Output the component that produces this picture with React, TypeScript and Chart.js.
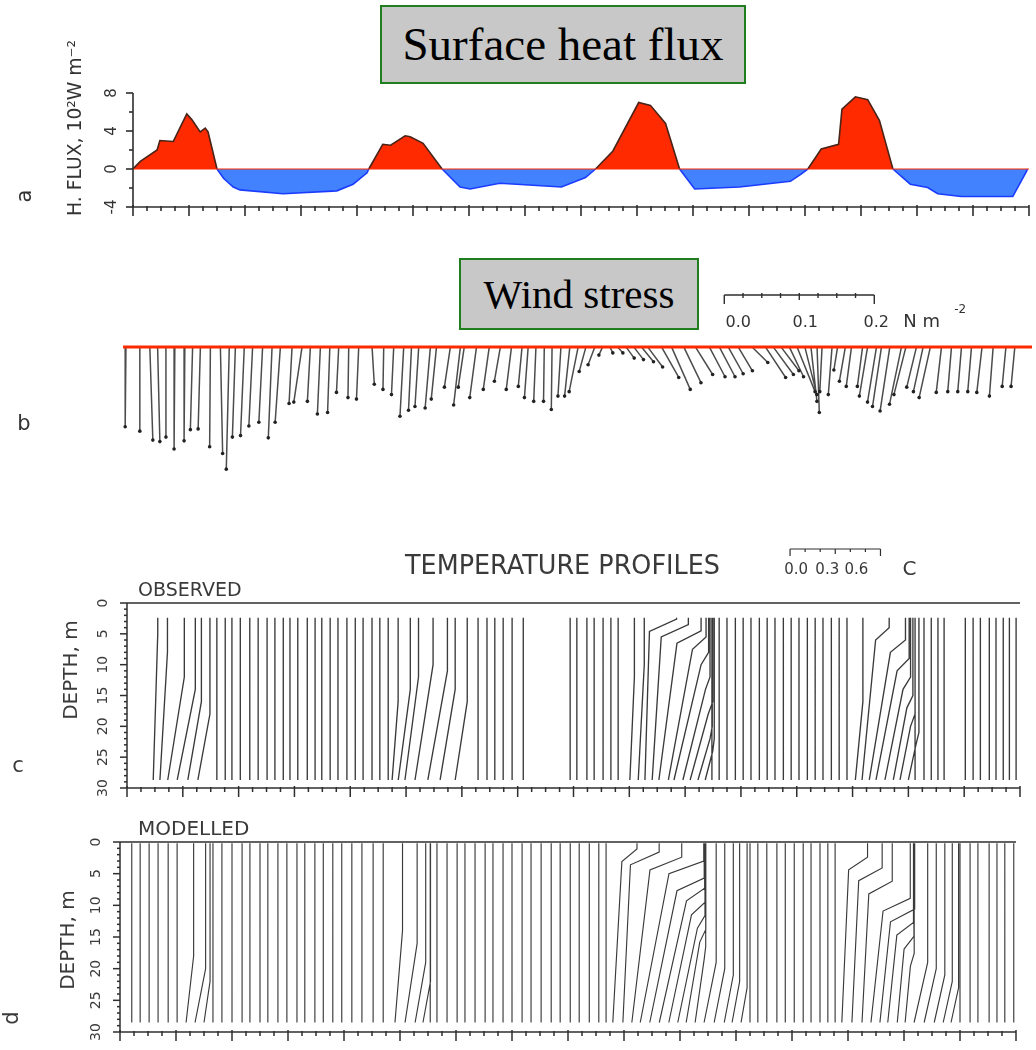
import React, { useEffect, useRef } from 'react';
import { Chart, registerables } from 'chart.js';

Chart.register(...registerables);

const W = 1036;
const RED = '#ff2a00';
const BLUE = '#4382ff';
const BLUE_LINE = '#1a3cff';
const INK = '#2e2e2e';
const SANS = '"DejaVu Sans", "Liberation Sans", sans-serif';
const SERIF = '"Liberation Serif", "Times New Roman", serif';

// ---------- shared time axis (days) ----------
const dayTicks = [0, 1, 2, 3, 4, 5, 6, 7, 8, 9, 10, 11, 12, 13, 14, 15, 16];

// ---------- panel a: surface heat flux (10^2 W m^-2) ----------
const fluxDays = [0.00, 0.13, 0.43, 0.48, 0.72, 0.96, 1.05, 1.20, 1.29, 1.34,
  1.50, 1.62, 1.79, 1.91, 2.68, 3.64, 3.93, 4.18, 4.21, 4.46,
  4.60, 4.86, 4.95, 5.18, 5.52, 5.84, 6.02, 6.55, 6.85, 7.65,
  8.08, 8.26, 8.57, 9.03, 9.24, 9.51, 9.76, 10.03, 10.83, 11.74,
  11.93, 12.05, 12.29, 12.60, 12.66, 12.90, 13.12, 13.33, 13.57, 13.88,
  14.19, 14.37, 14.79, 15.71, 15.96, 15.97];
const fluxValues = [0.0, 0.8, 2.0, 3.0, 2.9, 5.8, 5.2, 3.9, 4.3, 3.9,
  0.0, -1.0, -1.9, -2.2, -2.6, -2.3, -1.6, -0.4, 0.0, 2.6,
  2.5, 3.5, 3.4, 2.7, 0.0, -1.9, -2.1, -1.5, -1.6, -1.9,
  -0.9, 0.0, 1.9, 7.0, 6.7, 4.8, 0.0, -2.1, -1.9, -1.3,
  -0.55, 0.0, 2.1, 2.6, 6.3, 7.6, 7.3, 5.1, 0.0, -1.6,
  -1.95, -2.6, -2.9, -2.9, -0.2, 0.0];
const fluxTickValues = [8, 6, 4, 2, 0, -2, -4];
const fluxTickLabels = ['8', '', '4', '', '0', '', '-4'];

// ---------- panel b: wind stress sticks (N m^-2) ----------
const windDays = [-0.09, 0.16, 0.34, 0.48, 0.63, 0.79, 0.97, 1.11, 1.25, 1.43,
  1.61, 1.77, 1.88, 2.04, 2.19, 2.37, 2.54, 2.69, 2.90, 3.08,
  3.23, 3.41, 3.58, 3.74, 3.92, 4.10, 4.34, 4.55, 4.73, 4.91,
  5.05, 5.18, 5.39, 5.50, 5.75, 5.93, 6.00, 6.22, 6.45, 6.65,
  6.85, 7.04, 7.15, 7.29, 7.44, 7.58, 7.74, 7.90, 8.05, 8.19,
  8.35, 8.49, 8.62, 8.76, 8.91, 9.05, 9.19, 9.30, 9.55, 9.73,
  9.95, 10.16, 10.41, 10.59, 10.75, 10.93, 11.18, 11.42, 11.56, 11.70,
  11.85, 11.99, 12.13, 12.24, 12.35, 12.44, 12.62, 12.72, 12.86, 12.97,
  13.17, 13.26, 13.42, 13.51, 13.66, 13.87, 13.95, 14.14, 14.26, 14.39,
  14.59, 14.77, 14.95, 15.13, 15.32, 15.52, 15.75, 15.91];
const windU = [-0.001, 0.000, 0.004, 0.003, 0.000, -0.001, -0.001, -0.003, -0.003, -0.001,
  0.003, -0.004, -0.004, -0.005, -0.005, -0.005, -0.005, -0.007, -0.004, -0.011,
  -0.004, -0.004, -0.003, -0.003, -0.001, -0.003, 0.003, -0.001, -0.003, -0.005,
  -0.004, -0.005, -0.007, -0.007, -0.008, -0.009, -0.008, -0.009, -0.008, -0.008,
  -0.007, -0.005, -0.005, -0.003, -0.001, -0.001, -0.004, -0.007, -0.012, -0.009,
  -0.009, -0.005, 0.004, 0.007, 0.011, 0.013, 0.016, 0.020, 0.023, 0.025,
  0.023, 0.023, 0.021, 0.021, 0.020, 0.019, 0.021, 0.027, 0.027, 0.024,
  0.019, 0.024, 0.016, 0.008, 0.003, -0.003, -0.005, -0.005, -0.008, -0.007,
  -0.007, -0.011, -0.012, -0.012, -0.013, -0.016, -0.016, -0.013, -0.013, -0.015,
  -0.007, -0.005, -0.005, -0.005, -0.007, -0.005, -0.005, -0.005];
const windV = [-0.107, -0.113, -0.125, -0.127, -0.121, -0.137, -0.126, -0.111, -0.110, -0.134,
  -0.143, -0.164, -0.121, -0.119, -0.106, -0.101, -0.122, -0.101, -0.076, -0.074,
  -0.073, -0.090, -0.088, -0.061, -0.068, -0.070, -0.050, -0.057, -0.064, -0.093,
  -0.085, -0.080, -0.082, -0.070, -0.054, -0.078, -0.054, -0.068, -0.057, -0.046,
  -0.057, -0.053, -0.068, -0.073, -0.073, -0.084, -0.066, -0.066, -0.060, -0.033,
  -0.024, -0.011, -0.008, -0.008, -0.015, -0.017, -0.020, -0.027, -0.041, -0.057,
  -0.048, -0.037, -0.040, -0.040, -0.036, -0.032, -0.021, -0.041, -0.037, -0.032,
  -0.040, -0.060, -0.064, -0.073, -0.088, -0.060, -0.064, -0.031, -0.046, -0.053,
  -0.053, -0.066, -0.074, -0.080, -0.086, -0.077, -0.064, -0.054, -0.060, -0.068,
  -0.061, -0.060, -0.060, -0.060, -0.061, -0.066, -0.053, -0.053];
const stressScaleValues = [0.0, 0.1, 0.2];
const stressScaleLabels = ['0.0', '0.1', '0.2'];

// ---------- panels c, d: temperature profiles ----------
const depthTicks = [0, 5, 10, 15, 20, 25, 30];
const tempScaleValues = [0.0, 0.3, 0.6];
const tempScaleLabels = ['0.0', '0.3', '0.6'];

// profile times (day of the profile's bottom point)
const observedDays = [0.47, 0.59, 0.73, 0.90, 1.09, 1.27, 1.61, 1.76, 1.88, 2.03,
  2.20, 2.35, 2.51, 2.65, 2.80, 2.92, 3.06, 3.23, 3.37, 3.49,
  3.64, 3.78, 3.94, 4.09, 4.23, 4.39, 4.53, 4.68, 4.75, 4.86,
  4.98, 5.16, 5.39, 5.61, 5.88, 6.29, 6.45, 6.59, 6.74, 6.90, 7.10,
  7.94, 8.06, 8.24, 8.37, 8.53, 8.67, 8.80,
  9.01, 9.16, 9.28, 9.41, 9.53, 9.70, 9.80, 9.96, 10.09, 10.23, 10.36, 10.48, 10.61,
  10.75, 10.90, 11.04, 11.18, 11.33, 11.47, 11.61, 11.76, 11.90, 12.04, 12.19, 12.33,
  12.47, 12.62, 12.76, 12.90, 13.05,
  13.17, 13.30, 13.42, 13.58, 13.73, 13.85, 14.00, 14.12, 14.28, 14.41, 14.53, 14.64,
  15.02, 15.16, 15.29, 15.45, 15.57, 15.70, 15.81, 15.93];
// [profile index, surface offset (C), kink depth (m), offset below kink (C)]
const observedBends = [
  [0, 0.03, 3, 0.03], [1, 0.05, 6, 0.05], [2, 0.11, 10, 0.11], [3, 0.12, 12, 0.12],
  [4, 0.09, 14, 0.09], [5, 0.08, 16, 0.08],
  [28, 0.04, 14, 0.04], [29, 0.08, 12, 0.08], [30, 0.09, 10, 0.09], [31, 0.12, 8, 0.12],
  [32, 0.13, 9, 0.13], [33, 0.10, 12, 0.10], [34, 0.08, 14, 0.08],
  [48, 0.03, 10, 0.03], [49, 0.04, 8, 0.04], [50, 0.21, 2.6, 0.03], [51, 0.24, 3.5, 0.06],
  [52, 0.28, 4.5, 0.12], [53, 0.25, 5.5, 0.16], [54, 0.23, 8, 0.18], [55, 0.18, 12, 0.15],
  [56, 0.15, 16, 0.12], [57, 0.095, 20, 0.08], [58, 0.06, 22, 0.05],
  [77, 0.05, 14, 0.05],
  [78, 0.18, 4, 0.09], [79, 0.24, 6, 0.14], [80, 0.22, 9, 0.14], [81, 0.17, 12, 0.12],
  [82, 0.13, 15, 0.09], [83, 0.10, 18, 0.07], [84, 0.07, 21, 0.05],
];
const modelledDays = [0.21, 0.36, 0.52, 0.68, 0.86, 1.02, 1.18, 1.34, 1.50, 1.66,
  1.82, 2.00, 2.18, 2.32, 2.50, 2.64, 2.82, 2.98, 3.16, 3.30,
  3.48, 3.63, 3.80, 3.96, 4.14, 4.32, 4.52, 4.70, 4.91, 5.09,
  5.27, 5.41, 5.54, 5.66, 5.84, 6.02, 6.16, 6.34, 6.52, 6.66,
  6.84, 7.00, 7.18, 7.34, 7.52, 7.70, 7.86, 8.04, 8.20, 8.38,
  8.55, 8.68,
  8.80, 8.98, 9.14, 9.29, 9.46, 9.63, 9.80, 9.96, 10.11, 10.27,
  10.43, 10.61, 10.79, 10.93, 11.09, 11.25, 11.39, 11.55, 11.73, 11.88,
  12.04, 12.20, 12.34, 12.50, 12.64, 12.77,
  12.89, 13.07, 13.25, 13.41, 13.57, 13.71, 13.88, 14.02,
  14.18, 14.36, 14.54, 14.70, 14.84, 15.00, 15.18, 15.32, 15.52, 15.66, 15.80, 15.96];
const modelledBends = [
  [6, 0.05, 16, 0.05], [7, 0.07, 18, 0.07], [8, 0.04, 20, 0.04],
  [28, 0.05, 12, 0.05], [29, 0.08, 14, 0.08], [30, 0.07, 17, 0.07], [31, 0.05, 20, 0.05],
  [52, 0.16, 1.1, 0.06], [53, 0.24, 1.6, 0.05], [54, 0.33, 2.4, 0.12], [55, 0.42, 3.0, 0.19],
  [56, 0.36, 5.7, 0.18], [57, 0.30, 7.3, 0.18], [58, 0.24, 9.5, 0.15], [59, 0.18, 11.6, 0.13],
  [60, 0.13, 13.8, 0.09], [61, 0.07, 16.5, 0.06],
  [62, 0.08, 17, 0.08], [63, 0.07, 18, 0.07], [64, 0.06, 19, 0.06], [65, 0.05, 20, 0.05], [66, 0.04, 21, 0.04],
  [78, 0.17, 2.4, 0.045], [79, 0.20, 4.1, 0.045], [80, 0.20, 6.2, 0.045], [81, 0.26, 8.9, 0.08],
  [82, 0.23, 10.6, 0.07], [83, 0.17, 12.7, 0.06], [84, 0.11, 14.9, 0.045], [85, 0.06, 17.6, 0.035],
  [86, 0.09, 17, 0.09], [87, 0.08, 18, 0.08], [88, 0.07, 19, 0.07], [89, 0.06, 20, 0.06], [90, 0.05, 21, 0.05],
];

// equal-aspect conversions taken from the scale bars
const DAYS_PER_STRESS = 13.5; // 0.2 N m^-2 bar ~ 151 px at 55.8 px/day
const DAYS_PER_DEG = 2.7;     // 0.6 C bar ~ 91 px at 56 px/day
const STRESS_BAR_DAY = 10.68;
const TEMP_BAR_DAY = 11.88;

type Pt = { x: number; y: number | null };

function stickLines(): Pt[] {
  const pts: Pt[] = [];
  windDays.forEach((t, i) => {
    pts.push({ x: t, y: 0 }, { x: t + windU[i] * DAYS_PER_STRESS, y: windV[i] }, { x: t, y: null });
  });
  return pts;
}
function stickTips(): Pt[] {
  return windDays.map((t, i) => ({ x: t + windU[i] * DAYS_PER_STRESS, y: windV[i] }));
}
function profileLines(days: number[], bends: number[][], zTop: number, zBot: number): Pt[] {
  const map = new Map<number, number[]>();
  bends.forEach((b) => map.set(b[0], b));
  const pts: Pt[] = [];
  days.forEach((t, i) => {
    const b = map.get(i);
    if (b) {
      const s = b[1] * DAYS_PER_DEG, k = b[2], l = b[3] * DAYS_PER_DEG;
      pts.push({ x: t + s, y: zTop }, { x: t + s, y: k }, { x: t + l, y: k + 2 }, { x: t, y: zBot });
    } else {
      pts.push({ x: t, y: zTop }, { x: t, y: zBot });
    }
    pts.push({ x: t, y: null });
  });
  return pts;
}

function seg(ctx: CanvasRenderingContext2D, x0: number, y0: number, x1: number, y1: number) {
  ctx.beginPath();
  ctx.moveTo(x0, y0);
  ctx.lineTo(x1, y1);
  ctx.stroke();
}
function rotText(ctx: CanvasRenderingContext2D, text: string, cx: number, cy: number, font: string, maxW?: number) {
  ctx.save();
  ctx.translate(cx, cy);
  ctx.rotate(-Math.PI / 2);
  ctx.font = font;
  ctx.textAlign = 'center';
  ctx.textBaseline = 'middle';
  if (maxW) ctx.fillText(text, 0, 0, maxW);
  else ctx.fillText(text, 0, 0);
  ctx.restore();
}
function text(ctx: CanvasRenderingContext2D, s: string, x: number, y: number, font: string, align: CanvasTextAlign = 'left', maxW?: number) {
  ctx.font = font;
  ctx.textAlign = align;
  ctx.textBaseline = 'alphabetic';
  if (maxW) ctx.fillText(s, x, y, maxW);
  else ctx.fillText(s, x, y);
}
function drawTimeAxis(ctx: CanvasRenderingContext2D, x: any, py: number) {
  const x0 = x.getPixelForValue(dayTicks[0]);
  const x1 = x.getPixelForValue(dayTicks[dayTicks.length - 1]);
  seg(ctx, x0, py, x1, py);
  dayTicks.forEach((d, i) => {
    const px = x.getPixelForValue(d);
    seg(ctx, px, py - 2, px, py + 9);
    if (i < dayTicks.length - 1) {
      for (let q = 1; q < 4; q++) {
        const mx = x.getPixelForValue(d + q / 4);
        seg(ctx, mx, py - 1, mx, py + 4);
      }
    }
  });
}
function drawDepthAxis(ctx: CanvasRenderingContext2D, x: any, y: any, labelOffset: number) {
  const px = x.getPixelForValue(0);
  seg(ctx, px, y.getPixelForValue(0), px, y.getPixelForValue(30));
  for (let d = 0; d <= 30; d++) {
    const py = y.getPixelForValue(d);
    seg(ctx, px - (d % 5 === 0 ? 7 : 3), py, px, py);
  }
  depthTicks.forEach((d) => rotText(ctx, String(d), px - labelOffset, y.getPixelForValue(d), `14px ${SANS}`));
  // top frame line
  seg(ctx, px, y.getPixelForValue(0), x.getPixelForValue(16), y.getPixelForValue(0));
}

function baseOptions(pad: any, xMin: number, xMax: number, yMin: number, yMax: number, reverse = false): any {
  return {
    animation: false,
    responsive: false,
    maintainAspectRatio: false,
    events: [],
    layout: { padding: pad },
    plugins: { legend: { display: false }, tooltip: { enabled: false }, title: { display: false } },
    scales: {
      x: { type: 'linear', min: xMin, max: xMax, display: false },
      y: { type: 'linear', min: yMin, max: yMax, reverse, display: false },
    },
    elements: { point: { radius: 0 }, line: { tension: 0 } },
  };
}

const axesA = {
  id: 'axesA',
  afterDatasetsDraw(chart: any) {
    const { ctx, scales: { x, y } } = chart;
    ctx.save();
    ctx.strokeStyle = INK;
    ctx.fillStyle = '#333';
    ctx.lineWidth = 1.6;
    const left = x.getPixelForValue(0);
    const bottom = y.getPixelForValue(-4);
    seg(ctx, left, y.getPixelForValue(8), left, bottom);
    fluxTickValues.forEach((v, i) => {
      const py = y.getPixelForValue(v);
      seg(ctx, left - (fluxTickLabels[i] ? 7 : 4), py, left, py);
      if (fluxTickLabels[i]) rotText(ctx, fluxTickLabels[i], left - 21, py, `15px ${SANS}`);
    });
    drawTimeAxis(ctx, x, bottom);
    rotText(ctx, 'H. FLUX, 10²W m⁻²', 76, 128, `19px ${SANS}`, 176);
    rotText(ctx, 'a', 26, 196, `21px ${SANS}`);
    ctx.restore();
  },
};

const axesB = {
  id: 'axesB',
  afterDatasetsDraw(chart: any) {
    const { ctx, scales: { x } } = chart;
    ctx.save();
    ctx.strokeStyle = INK;
    ctx.fillStyle = '#333';
    ctx.lineWidth = 1.4;
    const bx0 = x.getPixelForValue(STRESS_BAR_DAY);
    const pxPerStress = x.getPixelForValue(STRESS_BAR_DAY + DAYS_PER_STRESS) - bx0;
    const bx1 = bx0 + 0.2 * pxPerStress;
    const by = 55;
    seg(ctx, bx0, by, bx1, by);
    seg(ctx, bx0, by, bx0, by + 9);
    seg(ctx, bx1, by, bx1, by + 9);
    for (let q = 1; q < 8; q++) {
      const mx = bx0 + q * 0.025 * pxPerStress;
      seg(ctx, mx, by - 2, mx, by + (q % 4 === 0 ? 5 : 3));
    }
    const offs = [14, 6, 2];
    stressScaleValues.forEach((v, i) => {
      text(ctx, stressScaleLabels[i], bx0 + v * pxPerStress + offs[i], 87, `16px ${SANS}`, 'center');
    });
    text(ctx, 'N m', bx1 + 29, 87, `18px ${SANS}`, 'left');
    text(ctx, '-2', bx1 + 80, 73, `12px ${SANS}`, 'left');
    text(ctx, 'b', 24, 190, `21px ${SANS}`, 'center');
    ctx.restore();
  },
};

const axesC = {
  id: 'axesC',
  afterDatasetsDraw(chart: any) {
    const { ctx, scales: { x, y } } = chart;
    ctx.save();
    ctx.strokeStyle = INK;
    ctx.fillStyle = '#3a3a3a';
    ctx.lineWidth = 1.5;
    drawDepthAxis(ctx, x, y, 24);
    drawTimeAxis(ctx, x, y.getPixelForValue(30));
    rotText(ctx, 'DEPTH, m', 72, 130, `20px ${SANS}`, 112);
    text(ctx, 'TEMPERATURE PROFILES', 405, 34, `27px ${SANS}`, 'left', 315);
    text(ctx, 'OBSERVED', 138, 56, `19px ${SANS}`, 'left', 117);
    text(ctx, 'c', 18, 232, `21px ${SANS}`, 'center');
    // temperature scale bar
    const bx0 = x.getPixelForValue(TEMP_BAR_DAY);
    const pxPerDeg = x.getPixelForValue(TEMP_BAR_DAY + DAYS_PER_DEG) - bx0;
    const bx1 = bx0 + 0.6 * pxPerDeg;
    const by = 9;
    ctx.lineWidth = 1.2;
    seg(ctx, bx0, by, bx1, by);
    seg(ctx, bx0, by, bx0, by + 7);
    seg(ctx, bx1, by, bx1, by + 7);
    for (let q = 1; q < 6; q++) {
      const mx = bx0 + q * 0.1 * pxPerDeg;
      seg(ctx, mx, by, mx, by + (q === 3 ? 5 : 3));
    }
    const offs = [6, -8, -24];
    tempScaleValues.forEach((v, i) => {
      text(ctx, tempScaleLabels[i], bx0 + v * pxPerDeg + offs[i], 34, `15px ${SANS}`, 'center');
    });
    text(ctx, 'C', bx1 + 22, 35, `20px ${SANS}`, 'left');
    ctx.restore();
  },
};

const axesD = {
  id: 'axesD',
  afterDatasetsDraw(chart: any) {
    const { ctx, scales: { x, y } } = chart;
    ctx.save();
    ctx.strokeStyle = INK;
    ctx.fillStyle = '#3a3a3a';
    ctx.lineWidth = 1.5;
    drawDepthAxis(ctx, x, y, 24);
    drawTimeAxis(ctx, x, y.getPixelForValue(30));
    rotText(ctx, 'DEPTH, m', 69, 140, `20px ${SANS}`, 114);
    text(ctx, 'MODELLED', 138, 35, `20px ${SANS}`, 'left', 120);
    rotText(ctx, 'd', 13, 218, `21px ${SANS}`);
    ctx.restore();
  },
};

export default function App() {
  const aRef = useRef<HTMLCanvasElement>(null);
  const bRef = useRef<HTMLCanvasElement>(null);
  const cRef = useRef<HTMLCanvasElement>(null);
  const dRef = useRef<HTMLCanvasElement>(null);

  useEffect(() => {
    const charts: Chart[] = [];

    charts.push(new Chart(aRef.current as HTMLCanvasElement, {
      type: 'line',
      data: {
        datasets: [
          {
            data: fluxDays.map((d, i) => ({ x: d, y: fluxValues[i] })),
            fill: { target: { value: 0 }, above: RED, below: BLUE },
            borderColor: BLUE_LINE,
            borderWidth: 1.6,
            segment: {
              borderColor: (c: any) => (c.p0.parsed.y < 0 || c.p1.parsed.y < 0 ? BLUE_LINE : '#4a2418'),
            },
            pointRadius: 0,
            order: 1,
          },
          {
            data: [{ x: 0, y: 0 }, { x: 16, y: 0 }],
            borderColor: RED,
            borderWidth: 1.2,
            pointRadius: 0,
            fill: false,
            order: 0,
          },
        ],
      } as any,
      options: baseOptions({ left: 133, right: W - 1029, top: 93, bottom: 240 - 207 }, 0, 16, -4, 8),
      plugins: [axesA],
    } as any));

    charts.push(new Chart(bRef.current as HTMLCanvasElement, {
      type: 'line',
      data: {
        datasets: [
          {
            data: stickLines(),
            borderColor: 'rgba(45,45,45,0.85)',
            borderWidth: 1.5,
            pointRadius: 0,
            spanGaps: false,
            fill: false,
            order: 2,
          },
          {
            data: stickTips(),
            showLine: false,
            pointRadius: 1.8,
            pointBackgroundColor: '#222',
            pointBorderWidth: 0,
            order: 1,
          },
          {
            data: [{ x: -0.143, y: 0 }, { x: 16.219, y: 0 }],
            borderColor: RED,
            borderWidth: 3,
            pointRadius: 0,
            fill: false,
            order: 0,
          },
        ],
      } as any,
      options: baseOptions({ left: 123, right: 0, top: 99.46, bottom: 2.2 }, -0.143, 16.219, -0.2, 0.01),
      plugins: [axesB],
    } as any));

    charts.push(new Chart(cRef.current as HTMLCanvasElement, {
      type: 'line',
      data: {
        datasets: [
          {
            data: profileLines(observedDays, observedBends, 2.4, 28.7),
            borderColor: '#3a3a3a',
            borderWidth: 1.35,
            pointRadius: 0,
            spanGaps: false,
            fill: false,
          },
        ],
      } as any,
      options: baseOptions({ left: 127, right: 16, top: 63, bottom: 12 }, 0, 16, 0, 30, true),
      plugins: [axesC],
    } as any));

    charts.push(new Chart(dRef.current as HTMLCanvasElement, {
      type: 'line',
      data: {
        datasets: [
          {
            data: profileLines(modelledDays, modelledBends, 0.2, 28.5),
            borderColor: '#3a3a3a',
            borderWidth: 1.15,
            pointRadius: 0,
            spanGaps: false,
            fill: false,
          },
        ],
      } as any,
      options: baseOptions({ left: 120, right: 20, top: 42, bottom: 18 }, 0, 16, 0, 30, true),
      plugins: [axesD],
    } as any));

    return () => charts.forEach((c) => c.destroy());
  }, []);

  const boxStyle = (left: number, top: number, width: number, height: number, size: number): React.CSSProperties => ({
    position: 'absolute',
    left,
    top,
    width,
    height,
    boxSizing: 'border-box',
    background: '#c8c8c8',
    border: '2px solid #1f7f1f',
    display: 'flex',
    alignItems: 'center',
    justifyContent: 'center',
    fontFamily: SERIF,
    fontSize: size,
    color: '#000',
    lineHeight: 1,
    zIndex: 5,
  });

  return (
    <div style={{ position: 'absolute', left: 0, top: 0, width: W, height: 1050, background: '#fff', overflow: 'hidden' }}>
      <canvas ref={aRef} width={W} height={240} style={{ position: 'absolute', left: 0, top: 0 }} />
      <canvas ref={bRef} width={W} height={260} style={{ position: 'absolute', left: 0, top: 240 }} />
      <canvas ref={cRef} width={W} height={260} style={{ position: 'absolute', left: 0, top: 540 }} />
      <canvas ref={dRef} width={W} height={250} style={{ position: 'absolute', left: 0, top: 800 }} />
      <div style={boxStyle(380, 5, 366, 79, 47)}>Surface heat flux</div>
      <div style={boxStyle(459, 258, 240, 72, 41)}>Wind stress</div>
    </div>
  );
}
